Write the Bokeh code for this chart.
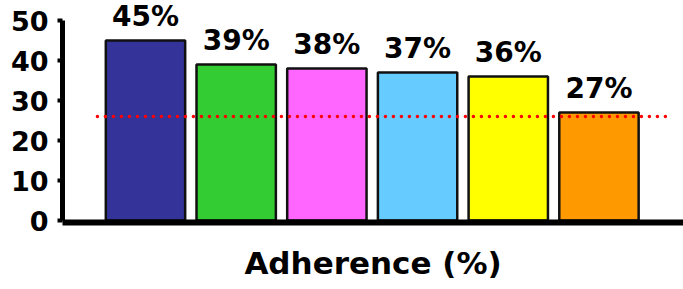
from bokeh.plotting import figure
from bokeh.models import Range1d, FixedTicker, ColumnDataSource, LinearAxis
from bokeh.embed import file_html
from bokeh.resources import INLINE
from bokeh.core.properties import value

# ---- data ----
groups = ["Group 1", "Group 2", "Group 3", "Group 4", "Group 5", "Group 6"]
adherence = [45, 39, 38, 37, 36, 27]
bar_colors = ["#333399", "#33CC33", "#FF66FF", "#66CCFF", "#FFFF00", "#FF9900"]
y_ticks = [0, 10, 20, 30, 40, 50]
reference_level = 26
x_label = "Adherence (%)"

label_pad = 5.9  # gap between bar top and its label centre, in data units

idx = list(range(len(groups)))
labels = [f"{v}%" for v in adherence]
src = ColumnDataSource(dict(x=idx, top=adherence, color=bar_colors,
                            label=labels, group=groups,
                            label_y=[v + label_pad for v in adherence]))

p = figure(width=683, height=289, output_backend="svg", toolbar_location=None,
           x_range=Range1d(-0.915, 5.932), y_range=Range1d(-0.5, 55),
           min_border_left=62, min_border_right=0, min_border_top=0,
           min_border_bottom=67)
p.outline_line_color = None
p.xgrid.visible = False
p.ygrid.visible = False
p.background_fill_color = "white"

# x axis: line only
xa = p.xaxis[0]
xa.ticker = FixedTicker(ticks=[])
xa.major_label_text_font_size = "0px"
xa.major_label_standoff = 0
xa.major_tick_out = 0
xa.major_tick_in = 0
xa.minor_tick_out = 0
xa.minor_tick_in = 0
xa.axis_line_width = 6
xa.axis_line_color = "black"

# x axis title, carried by a second, line-less axis below the first
lab_axis = LinearAxis(ticker=FixedTicker(ticks=[]), axis_line_color=None,
                      major_tick_out=0, major_tick_in=0, minor_tick_out=0,
                      minor_tick_in=0, major_label_text_font_size="0px",
                      major_label_standoff=0,
                      axis_label=x_label, axis_label_standoff=22,
                      axis_label_text_font="DejaVu Sans",
                      axis_label_text_font_style="bold",
                      axis_label_text_font_size="31px",
                      axis_label_text_color="black")
p.add_layout(lab_axis, "below")

# y axis
ya = p.yaxis[0]
ya.ticker = FixedTicker(ticks=y_ticks)
ya.bounds = (y_ticks[0], y_ticks[-1])
ya.axis_line_width = 5
ya.axis_line_color = "black"
ya.major_tick_line_width = 4
ya.major_tick_line_color = "black"
ya.major_tick_out = 5
ya.major_tick_in = 0
ya.minor_tick_out = 0
ya.minor_tick_in = 0
ya.major_label_standoff = 9
ya.major_label_text_font = "DejaVu Sans"
ya.major_label_text_font_style = "bold"
ya.major_label_text_font_size = "27px"
ya.major_label_text_color = "black"

p.vbar(x="x", top="top", bottom=0, width=0.875, fill_color="color",
       line_color="#111111", line_width=2.5, source=src)

p.text(x="x", y="label_y", text="label", source=src, text_align="center",
       text_baseline="middle",
       text_font=value("DejaVu Sans"), text_font_style="bold",
       text_font_size="28px", text_color="black")

p.line(x=[idx[0] - 0.53, idx[-1] + 0.77], y=[reference_level, reference_level],
       line_color="#FF0000", line_width=3.5, line_dash="0 8", line_cap="round")

open("out.html", "w").write(file_html(p, INLINE))
